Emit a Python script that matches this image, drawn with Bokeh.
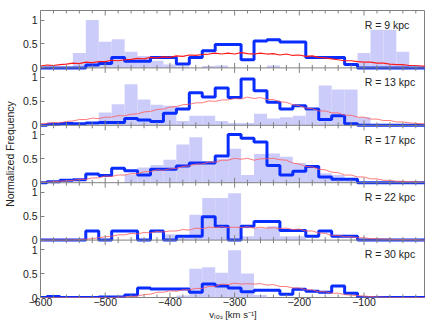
import math
from bokeh.plotting import figure
from bokeh.models import Range1d, FixedTicker, Label, Span
from bokeh.embed import file_html
from bokeh.resources import INLINE

# ---------------- data ----------------
bin_centers = [-580, -560, -540, -520, -500, -480, -460, -440, -420, -400,
               -380, -360, -340, -320, -300, -280, -260, -240, -220, -200,
               -180, -160, -140, -120, -100, -80, -60, -40, -20]
bin_width = 20

radii_labels = ["R = 9 kpc", "R = 13 kpc", "R = 17 kpc", "R = 22 kpc", "R = 30 kpc"]

# filled (lavender) histograms
fill_9 = [0, 0, 0.31, 1.0, 0.545, 0.6, 0.34, 0.25, 0.15, 0.07,
          0.03, 0, 0.04, 0.05, 0, 0, 0, 0.05, 0, 0,
          0, 0, 0, 0, 0.31, 0.8, 0.8, 0.34, 0]
fill_13 = [0, 0, 0, 0, 0.27, 0.44, 0.86, 0.54, 0.43, 0.41,
           0.09, 0.2, 0.2, 0.09, 0.05, 0.05, 0.24, 0.14, 0.17, 0.2,
           0.3, 0.83, 0.75, 0.75, 0.17, 0, 0, 0, 0]
fill_17 = [0, 0, 0, 0, 0, 0, 0.17, 0.32, 0.37, 0.48,
           0.8, 0.95, 0.45, 0.5, 0.71, 0.16, 0.6, 0.61, 0.54, 0.41,
           0.31, 0.2, 0.16, 0.1, 0, 0, 0, 0, 0]
fill_22 = [0, 0, 0, 0, 0, 0, 0, 0, 0, 0.12,
           0.1, 0.53, 0.88, 0.88, 0.98, 0.08, 0.25, 0.29, 0.08, 0.08,
           0, 0, 0, 0, 0, 0, 0, 0, 0]
fill_30 = [0, 0, 0, 0, 0, 0, 0, 0, 0, 0,
           0.04, 0.6, 0.63, 0.52, 0.99, 0.5, 0.05, 0, 0, 0,
           0, 0, 0, 0, 0, 0, 0, 0, 0]

# outlined (blue) histograms
blue_9 = [0, 0, 0, 0.06, 0.09, 0.22, 0.14, 0.14, 0.22, 0.22,
          0.08, 0.22, 0.36, 0.49, 0.49, 0.17, 0.56, 0.59, 0.54, 0.54,
          0.22, 0.22, 0.22, 0.07, 0, 0, 0, 0, 0]
blue_13 = [0.02, 0.04, 0.03, 0.05, 0.06, 0.06, 0.14, 0.11, 0.08, 0.25,
           0.34, 0.68, 0.59, 0.78, 0.58, 0.97, 0.72, 0.48, 0.34, 0.41,
           0.34, 0.12, 0.2, 0.03, 0, 0, 0, 0, 0]
blue_17 = [0.02, 0.05, 0.06, 0.18, 0.15, 0.3, 0.25, 0.16, 0.28, 0.28,
           0.35, 0.41, 0.41, 0.56, 1.01, 0.93, 0.85, 0.36, 0.16, 0.24,
           0.34, 0.12, 0.07, 0.07, 0, 0, 0, 0, 0]
blue_22 = [0, 0, 0, 0.19, 0, 0.19, 0.19, 0, 0.19, 0,
           0.08, 0.08, 0.49, 0.29, 0, 0.29, 0.39, 0.39, 0.2, 0.2,
           0.08, 0.19, 0.08, 0.08, 0, 0, 0, 0, 0]
blue_30 = [0.02, 0, 0, 0, 0.01, 0.01, 0.05, 0.2, 0.18, 0.18,
           0.18, 0.11, 0.28, 0.24, 0.2, 0.12, 0.15, 0.15, 0.07, 0.17,
           0.13, 0.11, 0.24, 0.09, 0, 0, 0, 0, 0]

# model (red) distributions, read every 10 km/s from -600 to 0
red_v = list(range(-600, 1, 10))
red_9 = [.04, .06, .05, .07, .08, .10, .09, .12, .11, .13,
         .13, .16, .15, .17, .18, .20, .19, .22, .21, .23,
         .22, .25, .24, .27, .26, .28, .29, .31, .29, .31,
         .29, .32, .30, .29, .31, .29, .30, .27, .29, .26,
         .27, .24, .25, .22, .21, .19, .17, .15, .15, .13,
         .12, .12, .10, .10, .08, .07, .07, .05, .05, .04, .03]
red_13 = [.03, .04, .06, .05, .08, .09, .12, .12, .15, .14,
          .17, .17, .20, .20, .23, .24, .28, .29, .33, .34,
          .38, .39, .43, .44, .47, .47, .51, .50, .53, .53,
          .56, .55, .59, .56, .58, .54, .54, .49, .48, .43,
          .41, .36, .35, .30, .30, .26, .26, .21, .21, .17,
          .17, .13, .13, .10, .10, .07, .07, .05, .04, .03, .02]
red_17 = [.01, .01, .02, .03, .04, .05, .07, .07, .10, .10,
          .14, .13, .16, .16, .19, .19, .23, .23, .27, .26,
          .29, .30, .34, .35, .39, .39, .43, .43, .47, .47,
          .51, .49, .51, .47, .50, .50, .51, .48, .47, .41,
          .39, .34, .33, .28, .27, .22, .21, .16, .16, .12,
          .12, .08, .08, .05, .05, .03, .03, .02, .02, .01, .01]
red_22 = [0, 0, 0, 0, 0, .005, .01, .02, .03, .05,
          .07, .08, .11, .11, .14, .13, .16, .15, .18, .17,
          .19, .19, .22, .21, .25, .24, .27, .26, .28, .26,
          .27, .26, .28, .25, .27, .25, .26, .24, .25, .22,
          .23, .19, .19, .15, .14, .10, .10, .07, .07, .05,
          .05, .03, .03, .02, .02, .01, .01, .01, .01, 0, 0]
red_30 = [0, 0, 0, 0, 0, 0, 0, 0, 0, 0,
          0, 0, .005, .01, .02, .03, .06, .07, .11, .11,
          .14, .13, .16, .16, .19, .19, .23, .23, .28, .27,
          .30, .28, .29, .28, .29, .26, .27, .23, .23, .20,
          .20, .16, .16, .12, .12, .09, .09, .06, .05, .04,
          .03, .02, .01, .005, 0, 0, 0, 0, 0, 0, 0]

x_major = [-600, -500, -400, -300, -200, -100, 0]
x_minor = [-580, -560, -540, -520, -480, -460, -440, -420, -380, -360, -340, -320,
           -280, -260, -240, -220, -180, -160, -140, -120, -80, -60, -40, -20]
x_tick_text = {-600: "\u2212600", -500: "\u2212500", -400: "\u2212400",
               -300: "\u2212300", -200: "\u2212200", -100: "\u2212100", 0: "0"}
y_ticks = [0, 0.5, 1]
y_tick_text = ["0", "0.5", "1"]

panels = [
    (fill_9, blue_9, red_9),
    (fill_13, blue_13, red_13),
    (fill_17, blue_17, red_17),
    (fill_22, blue_22, red_22),
    (fill_30, blue_30, red_30),
]

# ---------------- styling ----------------
FONT = "Liberation Sans"
GRAY = "#808080"
TXT = "#222222"
FILL = "#ccccfa"
BLUE = "#0a2dff"

n = len(panels)
PANEL_H = 1.2                      # y extent of one panel in data units
TOTAL = PANEL_H * n
offsets = [PANEL_H * (n - 1 - k) for k in range(n)]   # bottom of panel k (top first)
bounds = [PANEL_H * j for j in range(n + 1)]

p = figure(width=425, height=322, x_range=Range1d(-600, -5),
           y_range=Range1d(0, TOTAL), output_backend="svg",
           toolbar_location=None, min_border=0, min_border_left=35,
           min_border_top=10, min_border_right=0, min_border_bottom=10)
p.grid.visible = False
p.outline_line_color = GRAY
p.background_fill_color = "white"
p.border_fill_color = "white"

# x axis (labels only, ticks drawn as marks on every panel edge)
xa = p.xaxis[0]
xa.ticker = FixedTicker(ticks=x_major, minor_ticks=[])
xa.major_label_overrides = x_tick_text
xa.axis_line_color = None
xa.major_tick_in = 0
xa.major_tick_out = 0
xa.major_label_standoff = 0
xa.major_label_text_font = FONT
xa.major_label_text_font_size = "10.5px"
xa.major_label_text_color = TXT
xa.major_label_text_line_height = 1.0
xa.axis_label = "v\u2097\u2092\u209b [km s\u207b\u00b9]"
xa.axis_label_text_font = FONT
xa.axis_label_text_font_style = "normal"
xa.axis_label_text_font_size = "9.5px"
xa.axis_label_text_color = TXT
xa.axis_label_text_line_height = 1.0
xa.axis_label_standoff = 0

# y axis: 0 / 0.5 / 1 on every panel
ytick_pos = []
ytick_lab = {}
for off in offsets:
    for t, s in zip(y_ticks, y_tick_text):
        ytick_pos.append(off + t)
        ytick_lab[off + t] = s
ya = p.yaxis[0]
ya.ticker = FixedTicker(ticks=ytick_pos, minor_ticks=[])
ya.major_label_overrides = ytick_lab
ya.axis_line_color = None
ya.major_tick_in = 4
ya.major_tick_out = 0
ya.major_tick_line_color = GRAY
ya.major_label_text_font = FONT
ya.major_label_text_font_size = "10.5px"
ya.major_label_text_color = TXT
ya.major_label_standoff = 3
ya.axis_label = "Normalized Frequency"
ya.axis_label_text_font = FONT
ya.axis_label_text_font_style = "normal"
ya.axis_label_text_font_size = "10.5px"
ya.axis_label_text_color = TXT
ya.axis_label_standoff = 4

for k in range(n):
    p.extra_y_ranges[f"p{k}"] = Range1d(start=-offsets[k], end=TOTAL - offsets[k])

lefts = [c - bin_width / 2 for c in bin_centers]
rights = [c + bin_width / 2 for c in bin_centers]

for k, (fvals, bvals, rvals) in enumerate(panels):
    rn = f"p{k}"
    p.quad(left=lefts, right=rights, bottom=0, top=fvals,
           fill_color=FILL, line_color=None, y_range_name=rn)
    sx = [-600] + lefts + [rights[-1], 0]
    sy = [0] + bvals + [0, 0]
    p.step(x=sx, y=sy, mode="after", line_color=BLUE, line_width=3,
           y_range_name=rn)
    if k == 0:
        p.line(x=red_v, y=rvals, line_color="#ff1a1a", line_width=1.2,
               y_range_name=rn)
    else:
        p.line(x=red_v, y=rvals, line_color="#ff5a5a", line_width=1,
               line_alpha=0.8, y_range_name=rn)
    p.add_layout(Label(x=-99, y=0.9, y_range_name=rn, text=radii_labels[k],
                       text_font=FONT, text_font_size="10.5px",
                       text_color=TXT, text_align="left",
                       text_baseline="alphabetic"))

# panel separators
for b in bounds[1:-1]:
    p.add_layout(Span(location=b, dimension="width", line_color=GRAY,
                      line_width=1))

# inward x tick marks on every panel edge (both sides of inner edges)
maj_x = [t for b in bounds for t in x_major]
maj_y = [b for b in bounds for t in x_major]
min_x = [t for b in bounds for t in x_minor]
min_y = [b for b in bounds for t in x_minor]
p.scatter(x=maj_x, y=maj_y, marker="dash", size=10, angle=math.pi / 2,
          line_color=GRAY, line_width=1)
p.scatter(x=min_x, y=min_y, marker="dash", size=6, angle=math.pi / 2,
          line_color=GRAY, line_width=1)

open("out.html", "w").write(file_html(p, INLINE))
